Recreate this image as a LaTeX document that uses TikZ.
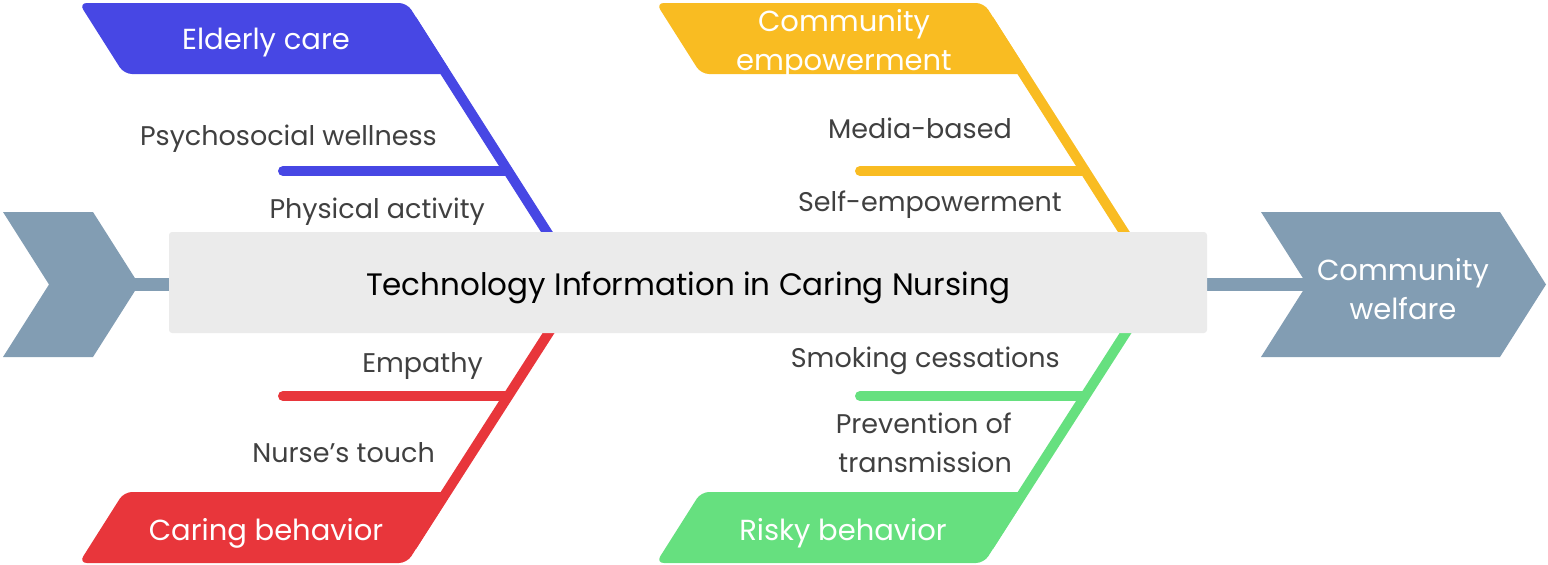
\documentclass[tikz,border=0pt]{standalone}
\usepackage{fontspec}
\setmainfont{Poppins}
\definecolor{cblue}{HTML}{4747E4}
\definecolor{cyellow}{HTML}{F9BC22}
\definecolor{cred}{HTML}{E8363B}
\definecolor{cgreen}{HTML}{66E07F}
\definecolor{cgray}{HTML}{829DB3}
\definecolor{cbox}{HTML}{EBEBEB}
\definecolor{ctext}{HTML}{404040}
\tikzset{
  lbl/.style={anchor=east, inner sep=0pt, text=ctext, font=\fontsize{27}{39}\selectfont, align=right},
  head/.style={inner sep=0pt, text=white, font=\fontsize{29}{39}\selectfont, align=center},
  bone/.style={line width=10pt},
  twig/.style={line width=10pt, line cap=round},
  para/.style={rounded corners=8pt},
}
\begin{document}
\begin{tikzpicture}[x=1pt,y=-1pt]
\useasboundingbox (0,0) rectangle (1548,565);
% chevrons and spine
\fill[cgray] (3,212) -- (93,212) -- (139,284.5) -- (93,357) -- (3,357) -- (49,284.5) -- cycle;
\fill[cgray] (1261,212) -- (1500,212) -- (1546,284.5) -- (1500,357) -- (1261,357) -- (1307,284.5) -- cycle;
\coordinate (sl) at (130,284.5);
\coordinate (sr) at (1312,284.5);
\draw[cgray, line width=13pt] (sl) -- (sr);
% blue branch
\fill[cblue, para] (79,3) -- (407,3) -- (452,74) -- (124,74) -- cycle;
\coordinate (b1) at (412,20);
\coordinate (b2) at (580,284);
\coordinate (bj) at (508,171);
\coordinate (bt) at (283,171);
\draw[cblue, bone] (b1) -- (b2);
\draw[cblue, twig] (bt) -- (bj);
\node[head] (bh) at (266,43) {Elderly care};
\node[lbl] (b_psy) at (437,139) {Psychosocial wellness};
\node[lbl] (b_phy) at (485,212) {Physical activity};
% red branch
\fill[cred, para] (79,563) -- (407,563) -- (452,492) -- (124,492) -- cycle;
\coordinate (r1) at (412,546);
\coordinate (r2) at (580,284);
\coordinate (rj) at (508,396);
\coordinate (rt) at (283,396);
\draw[cred, bone] (r1) -- (r2);
\draw[cred, twig] (rt) -- (rj);
\node[head] (rh) at (266,533) {Caring behavior};
\node[lbl] (r_emp) at (483,366) {Empathy};
\node[lbl] (r_nur) at (435,453) {Nurse’s touch};
% yellow branch
\fill[cyellow, para] (656,3) -- (984,3) -- (1029,74) -- (701,74) -- cycle;
\coordinate (y1) at (989,20);
\coordinate (y2) at (1157,284);
\coordinate (yj) at (1085,171);
\coordinate (yt) at (860,171);
\draw[cyellow, bone] (y1) -- (y2);
\draw[cyellow, twig] (yt) -- (yj);
\node[head] (yh) at (844,44) {Community\\empowerment};
\node[lbl] (y_med) at (1012,128) {Media-based};
\node[lbl] (y_self) at (1062,205) {Self-empowerment};
% green branch
\fill[cgreen, para] (656,563) -- (984,563) -- (1029,492) -- (701,492) -- cycle;
\coordinate (g1) at (989,546);
\coordinate (g2) at (1157,284);
\coordinate (gj) at (1085,396);
\coordinate (gt) at (860,396);
\draw[cgreen, bone] (g1) -- (g2);
\draw[cgreen, twig] (gt) -- (gj);
\node[head] (gh) at (843,533) {Risky behavior};
\node[lbl] (g_smo) at (1060,361) {Smoking cessations};
\node[lbl] (g_pre) at (1012,443) {Prevention of\\transmission};
% central box
\node[fill=cbox, rounded corners=3pt, minimum width=1038pt, minimum height=101pt, inner sep=0pt] (box) at (688,282.5) {};
\node[font=\fontsize{31}{36}\selectfont, text=black, inner sep=0pt] (boxt) at (688,288) {Technology Information in Caring Nursing};
\node[head] (cw) at (1403,289.5) {Community\\welfare};
\end{tikzpicture}
\end{document}
